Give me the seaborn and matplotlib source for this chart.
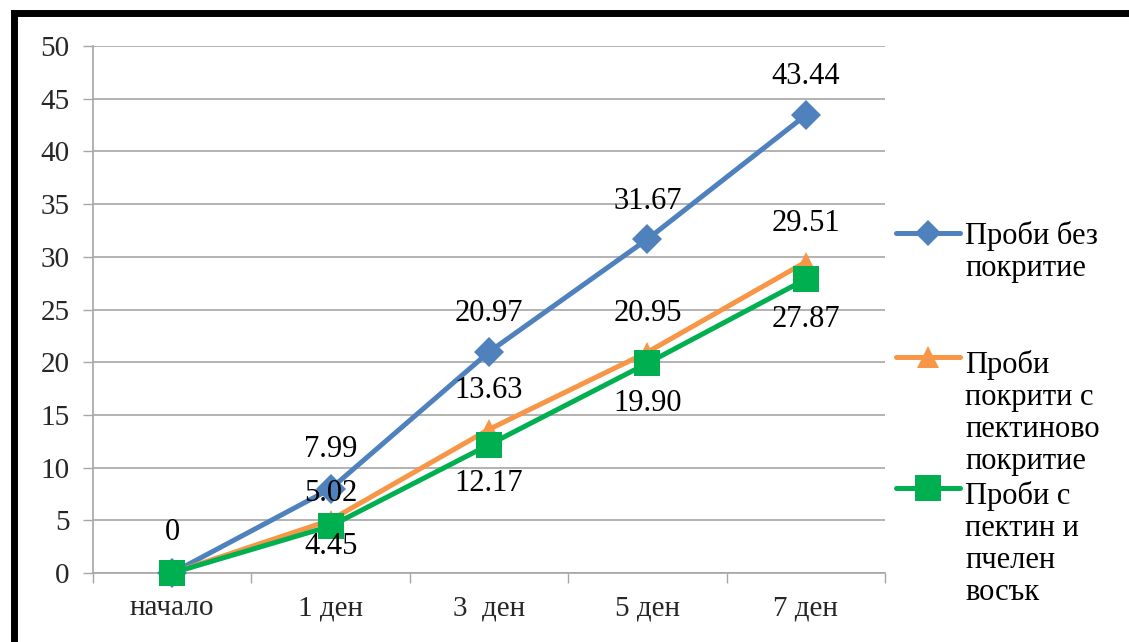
import numpy as np
import pandas as pd
import seaborn as sns
import matplotlib.pyplot as plt
from matplotlib.lines import Line2D
from matplotlib.patches import Rectangle

# --- data -------------------------------------------------------------
categories = ["начало", "1 ден", "3  ден", "5 ден", "7 ден"]
uncoated = [0, 7.99, 20.97, 31.67, 43.44]
pectin = [0, 5.02, 13.63, 20.95, 29.51]
pectin_wax = [0, 4.45, 12.17, 19.90, 27.87]
series_names = [
    "Проби без\nпокритие",
    "Проби\nпокрити с\nпектиново\nпокритие",
    "Проби с\nпектин и\nпчелен\nвосък",
]
y_ticks = list(range(0, 51, 5))

# --- style ------------------------------------------------------------
sns.set_theme(style="white")
plt.rcParams["font.family"] = ["Liberation Serif", "DejaVu Serif"]

W, H = 1129, 642
GRID = "#A6A6A6"
colors = ["#4F81BD", "#F79646", "#00B050"]
markers = ["D", "^", "s"]
msizes = [15, 15, 19]
legend_msizes = [13, 16, 19]
# vertical offsets (points) of the value labels for each series
label_offsets = [
    [29, 28, 28, 27, 28],
    [None, 19, 28, 28, 28],
    [None, -15, -28, -29, -29],
]

fig = plt.figure(figsize=(W / 100, H / 100), dpi=100)
ax = fig.add_axes([93 / W, 1 - 573 / H, 792 / W, 527 / H])

x = np.arange(len(categories))
all_series = [uncoated, pectin, pectin_wax]
for i, values in enumerate(all_series):
    df = pd.DataFrame({"x": x, "y": values})
    sns.lineplot(
        data=df, x="x", y="y", ax=ax, color=colors[i], lw=3.6,
        marker=markers[i], markersize=msizes[i], markeredgewidth=0,
        clip_on=False, zorder=3 + i, sort=False, legend=False,
    )
    for xi, v, off in zip(x, values, label_offsets[i]):
        if off is None:
            continue
        txt = "0" if v == 0 else f"{v:.2f}"
        ax.annotate(txt, (xi, v), xytext=(0, off), textcoords="offset points",
                    ha="center", va="center", fontsize=22, color="black",
                    zorder=10, annotation_clip=False)

ax.set_xlim(-0.5, len(categories) - 0.5)
ax.set_ylim(0, 50)
ax.set_xlabel("")
ax.set_ylabel("")

# category labels sit between the boundary tick marks
ax.set_xticks(np.arange(-0.5, len(categories), 1))
ax.set_xticklabels([])
ax.set_xticks(x, minor=True)
ax.set_xticklabels(categories, minor=True)
ax.tick_params(axis="x", which="major", bottom=True, length=7, width=1,
               color=GRID, direction="out")
ax.tick_params(axis="x", which="minor", bottom=True, length=0, pad=16,
               labelsize=21)

ax.set_yticks(y_ticks)
ax.tick_params(axis="y", left=True, length=7, width=1, color=GRID,
               direction="out", labelsize=21, pad=10)

ax.grid(axis="y", color=GRID, lw=1.2)
ax.grid(axis="x", visible=False)
ax.set_axisbelow(True)
for s in ["top", "right"]:
    ax.spines[s].set_visible(False)
for s in ["left", "bottom"]:
    ax.spines[s].set_color(GRID)
    ax.spines[s].set_linewidth(1.2)

# --- legend on the right ------------------------------------------------
def fx(px):
    return px / W

def fy(py):
    return 1 - py / H

entry_y = [233, 357, 488]
pitch = 36.5
for i, name in enumerate(series_names):
    y0 = entry_y[i]
    fig.add_artist(Line2D([fx(896), fx(960)], [fy(y0), fy(y0)],
                          color=colors[i], lw=3.6, solid_capstyle="round",
                          transform=fig.transFigure))
    fig.add_artist(Line2D([fx(928)], [fy(y0)], color=colors[i],
                          marker=markers[i], markersize=legend_msizes[i],
                          markeredgewidth=0, transform=fig.transFigure))
    n = name.count("\n") + 1
    yc = y0 + (n - 1) * pitch / 2 + 1
    fig.text(fx(965), fy(yc), name, ha="left", va="center", fontsize=22,
             linespacing=1.14, color="black")

# --- outer frame --------------------------------------------------------
fig.add_artist(Rectangle((fx(13.5), -0.2), 2, fy(13) + 0.2, fill=False,
                         ec="black", lw=5, transform=fig.transFigure,
                         clip_on=False))

fig.savefig("out.png", dpi=100)
